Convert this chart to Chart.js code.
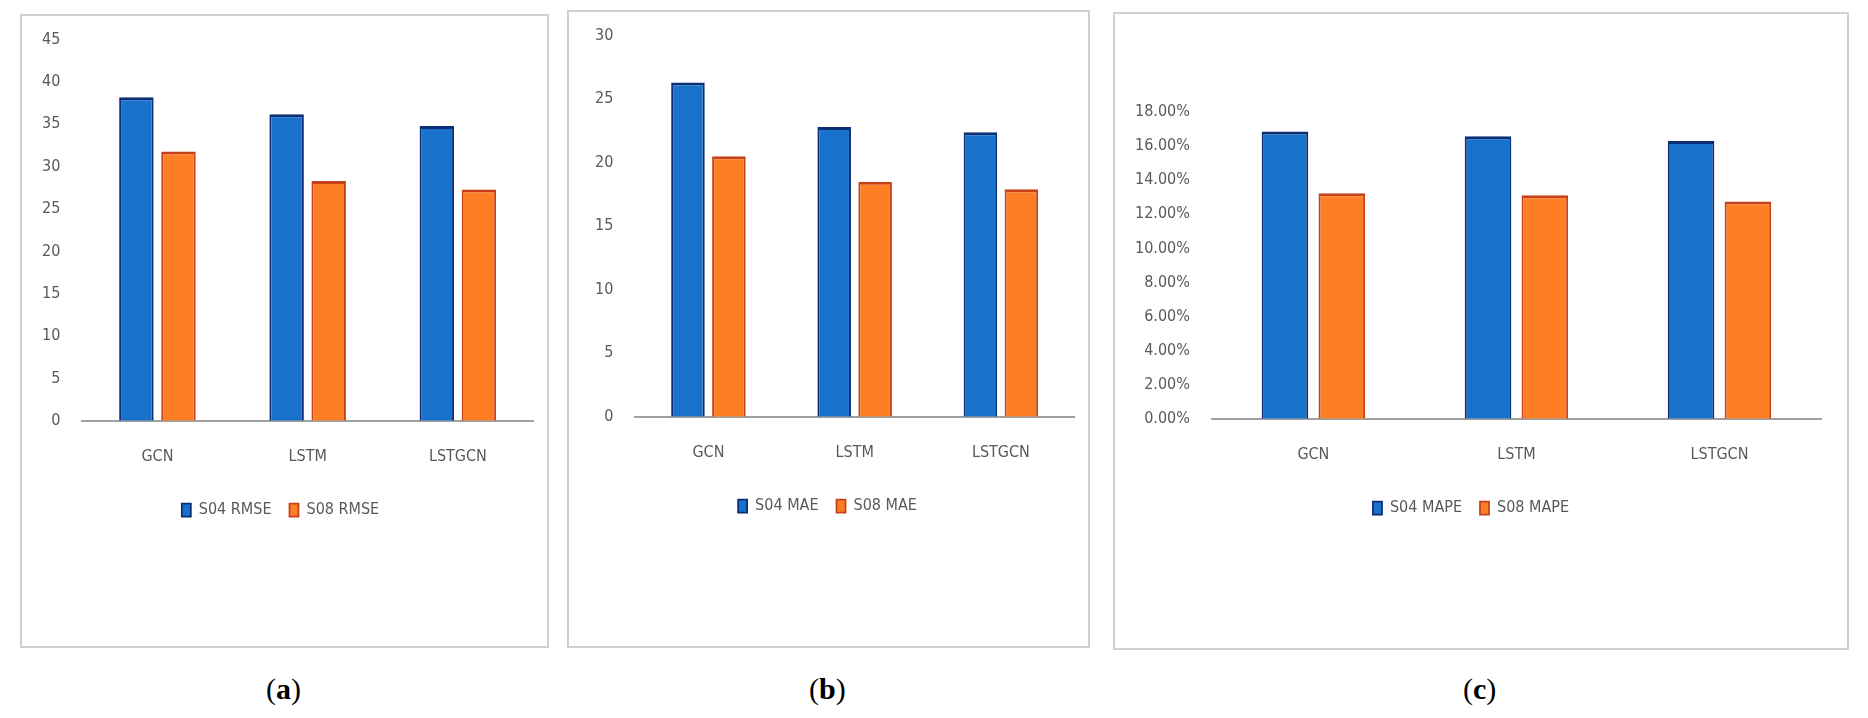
<!DOCTYPE html>
<html>
<head>
<meta charset="utf-8">
<script src="https://cdn.jsdelivr.net/npm/chart.js@4"></script>
<style>
  body { margin: 0; background: #fff; width: 1868px; height: 718px; position: relative; font-family: "Liberation Serif", serif; }
  .box { position: absolute; border: 2px solid #d0d0d0; box-sizing: border-box; background: #fff; }
  .cap { position: absolute; top: 672px; font-size: 30px; color: #000; }
  canvas { display: block; }
</style>
</head>
<body>
<div class="box" style="left:20px;top:14px;width:529px;height:634px"><canvas id="ca" width="525" height="630"></canvas></div>
<div class="box" style="left:567px;top:10px;width:523px;height:638px"><canvas id="cb" width="519" height="634"></canvas></div>
<div class="box" style="left:1113px;top:12px;width:736px;height:638px"><canvas id="cc" width="732" height="634"></canvas></div>
<div class="cap" style="left:266px">(<b>a</b>)</div>
<div class="cap" style="left:809px">(<b>b</b>)</div>
<div class="cap" style="left:1463px">(<b>c</b>)</div>
<script>
const models = ["GCN", "LSTM", "LSTGCN"];

const s04Rmse = [38.2, 36.2, 34.8];
const s08Rmse = [31.8, 28.3, 27.3];
const s04Mae = [26.3, 22.8, 22.4];
const s08Mae = [20.5, 18.5, 17.9];
const s04Mape = [0.1686, 0.1657, 0.1630];
const s08Mape = [0.1324, 0.1311, 0.1275];

const FONT = "'Liberation Sans Narrow', 'DejaVu Sans Condensed', sans-serif";
const TXT = "#595959";

function makeChart(id, labels04, labels08, d04, d08, yMax, yStep, fmt, pad) {
  new Chart(document.getElementById(id), {
    type: "bar",
    data: {
      labels: models,
      datasets: [
        { label: labels04, data: d04, backgroundColor: "#1872cc", borderColor: "#0b2d73", borderWidth: { top: 3, left: 2, right: 2, bottom: 0 } },
        { label: labels08, data: d08, backgroundColor: "#fd7e25", borderColor: "#c8401a", borderWidth: { top: 3, left: 2, right: 2, bottom: 0 } },
      ],
    },
    options: {
      responsive: false,
      animation: false,
      layout: { padding: pad },
      datasets: { bar: { categoryPercentage: 0.56, barPercentage: 0.82 } },
      scales: {
        x: {
          grid: { display: false },
          border: { color: "#a0a0a0", width: 2 },
          ticks: { color: TXT, font: { family: FONT, size: 16 }, padding: 18 },
        },
        y: {
          min: 0,
          max: yMax,
          grid: { display: false },
          border: { display: false },
          ticks: { stepSize: yStep, color: TXT, font: { family: FONT, size: 16 }, padding: 14, callback: fmt },
        },
      },
      plugins: {
        tooltip: { enabled: false },
        legend: {
          position: "bottom",
          labels: { color: TXT, font: { family: FONT, size: 16 }, boxWidth: 9, boxHeight: 13, padding: 18 },
        },
      },
    },
  });
}

makeChart("ca", "S04 RMSE", "S08 RMSE", s04Rmse, s08Rmse, 45, 5, (v) => v, { top: 18, left: 6, right: 14, bottom: 118 });
makeChart("cb", "S04 MAE", "S08 MAE", s04Mae, s08Mae, 30, 5, (v) => v, { top: 22, left: 12, right: 14, bottom: 122 });
makeChart("cc", "S04 MAPE", "S08 MAPE", s04Mape, s08Mape, 0.18, 0.02, (v) => (v * 100).toFixed(2) + "%", { top: 98, left: 6, right: 26, bottom: 122 });
</script>
</body>
</html>
